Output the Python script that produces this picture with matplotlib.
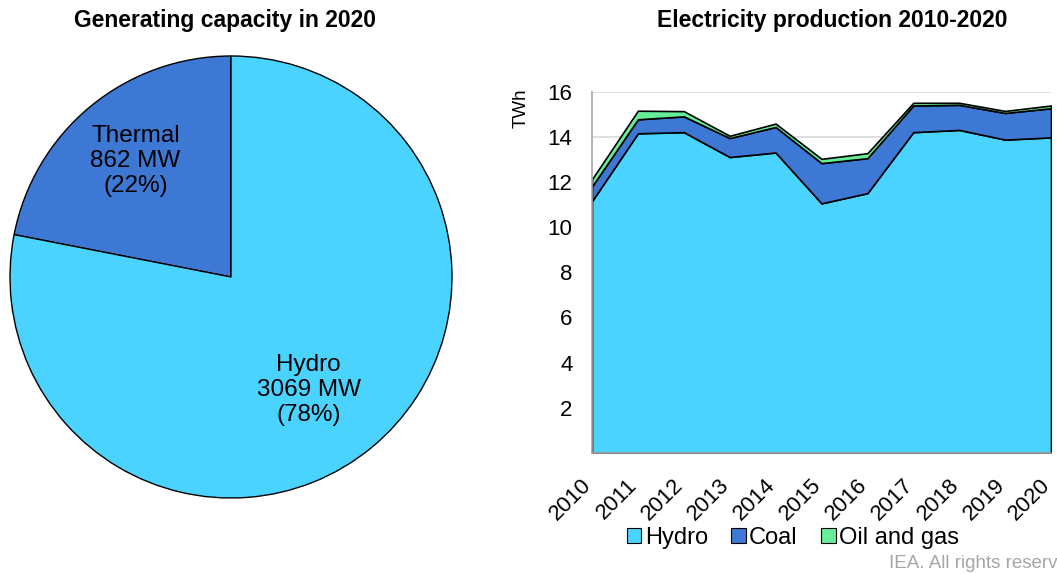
import matplotlib
matplotlib.use("Agg")
import matplotlib.pyplot as plt
from matplotlib.patches import Patch
from matplotlib.transforms import ScaledTranslation
import numpy as np

plt.rcParams['font.family'] = ['Liberation Sans', 'DejaVu Sans']

# Generating capacity in 2020
cap_labels = ["Thermal", "Hydro"]
cap_mw = [862, 3069]

# Electricity production 2010-2020 (TWh)
years = [2010, 2011, 2012, 2013, 2014, 2015, 2016, 2017, 2018, 2019, 2020]
hydro = [11.15, 14.15, 14.2, 13.1, 13.3, 11.05, 11.5, 14.2, 14.3, 13.87, 13.97]
coal = [0.65, 0.62, 0.70, 0.84, 1.13, 1.78, 1.55, 1.18, 1.11, 1.18, 1.29]
oil_gas = [0.32, 0.38, 0.23, 0.10, 0.15, 0.19, 0.22, 0.12, 0.09, 0.09, 0.12]
y_ticks = [2, 4, 6, 8, 10, 12, 14, 16]

c_hydro = "#4AD3FF"
c_coal = "#3D78D4"
c_oil = "#66EE99"

fig = plt.figure(figsize=(10.57, 5.74), dpi=100)

# --- Pie chart ---
ax_pie = fig.add_axes([10 / 1057, (574 - 498) / 574, 442 / 1057, 442 / 574])
total = sum(cap_mw)
texts = [f"{lab}\n{v} MW\n({round(100 * v / total)}%)" for lab, v in zip(cap_labels, cap_mw)]
wedges, _ = ax_pie.pie(cap_mw, colors=[c_coal, c_hydro], startangle=90, counterclock=True,
                       wedgeprops=dict(edgecolor="black", linewidth=1.0))
for w in wedges:
    w.set_clip_on(False)
# label radius and angular nudge (degrees) for each wedge
for w, t, d, nudge in zip(wedges, texts, [0.68, 0.62], [0, -5]):
    ang = np.deg2rad((w.theta1 + w.theta2) / 2 + nudge)
    ax_pie.text(d * np.cos(ang), d * np.sin(ang), t, ha="center", va="center",
                fontsize=17.5, linespacing=1.2)
ax_pie.set_xlim(-1, 1)
ax_pie.set_ylim(-1, 1)
ax_pie.set_aspect("equal")
fig.text(225 / 1057, 1 - 20 / 574, "Generating capacity in 2020", ha="center", va="center",
         fontsize=16.5, fontweight="bold")

# --- Stacked area chart ---
ax = fig.add_axes([592 / 1057, (574 - 453) / 574, 459 / 1057, 361.5 / 574])
ax.stackplot(years, hydro, coal, oil_gas, colors=[c_hydro, c_coal, c_oil],
             edgecolor="black", linewidth=1.2, zorder=2)
ax.set_xlim(2010, 2020)
ax.set_ylim(0, 16)
ax.set_yticks(y_ticks)
ax.set_xticks(years)
ax.set_xticklabels([])
ax.tick_params(axis="y", length=0, labelsize=16, pad=14)
ax.tick_params(axis="x", length=0)

# Rotated year labels, anchored at their upper-right corner just below each tick
label_offset = ScaledTranslation(-11 / 100, -22 / 100, fig.dpi_scale_trans)
for yr in years:
    ax.text(yr, 0, str(yr), transform=ax.get_xaxis_transform() + label_offset,
            rotation=45, rotation_mode="anchor", ha="right", va="top", fontsize=16)

ax.grid(axis="y", color="#d9d9d9", linewidth=1.2, zorder=0)
ax.set_axisbelow(True)
for s in ["top", "right"]:
    ax.spines[s].set_visible(False)
for s in ["left", "bottom"]:
    ax.spines[s].set_color("#a6a6a6")
    ax.spines[s].set_linewidth(1.2)
ax.text(-0.155, 0.955, "TWh", transform=ax.transAxes, rotation=90, ha="center", va="center",
        fontsize=13.5)

fig.text(832 / 1057, 1 - 20 / 574, "Electricity production 2010-2020", ha="center", va="center",
         fontsize=16.5, fontweight="bold")

handles = [Patch(facecolor=c, edgecolor="black", linewidth=0.8) for c in [c_hydro, c_coal, c_oil]]
fig.legend(handles, ["Hydro", "Coal", "Oil and gas"], loc="center", bbox_to_anchor=(793 / 1057, 1 - 538 / 574),
           ncol=3, frameon=False, fontsize=17, handlelength=0.6, handleheight=0.6,
           handletextpad=0.15, columnspacing=1.0, borderaxespad=0)

# Credit line, running past the right edge of the figure
fig.text(889 / 1057, 1 - 563 / 574, "IEA. All rights reserved.", ha="left", va="center",
         fontsize=13.5, color="#a6a6a6")

fig.savefig("out.png", dpi=100)
